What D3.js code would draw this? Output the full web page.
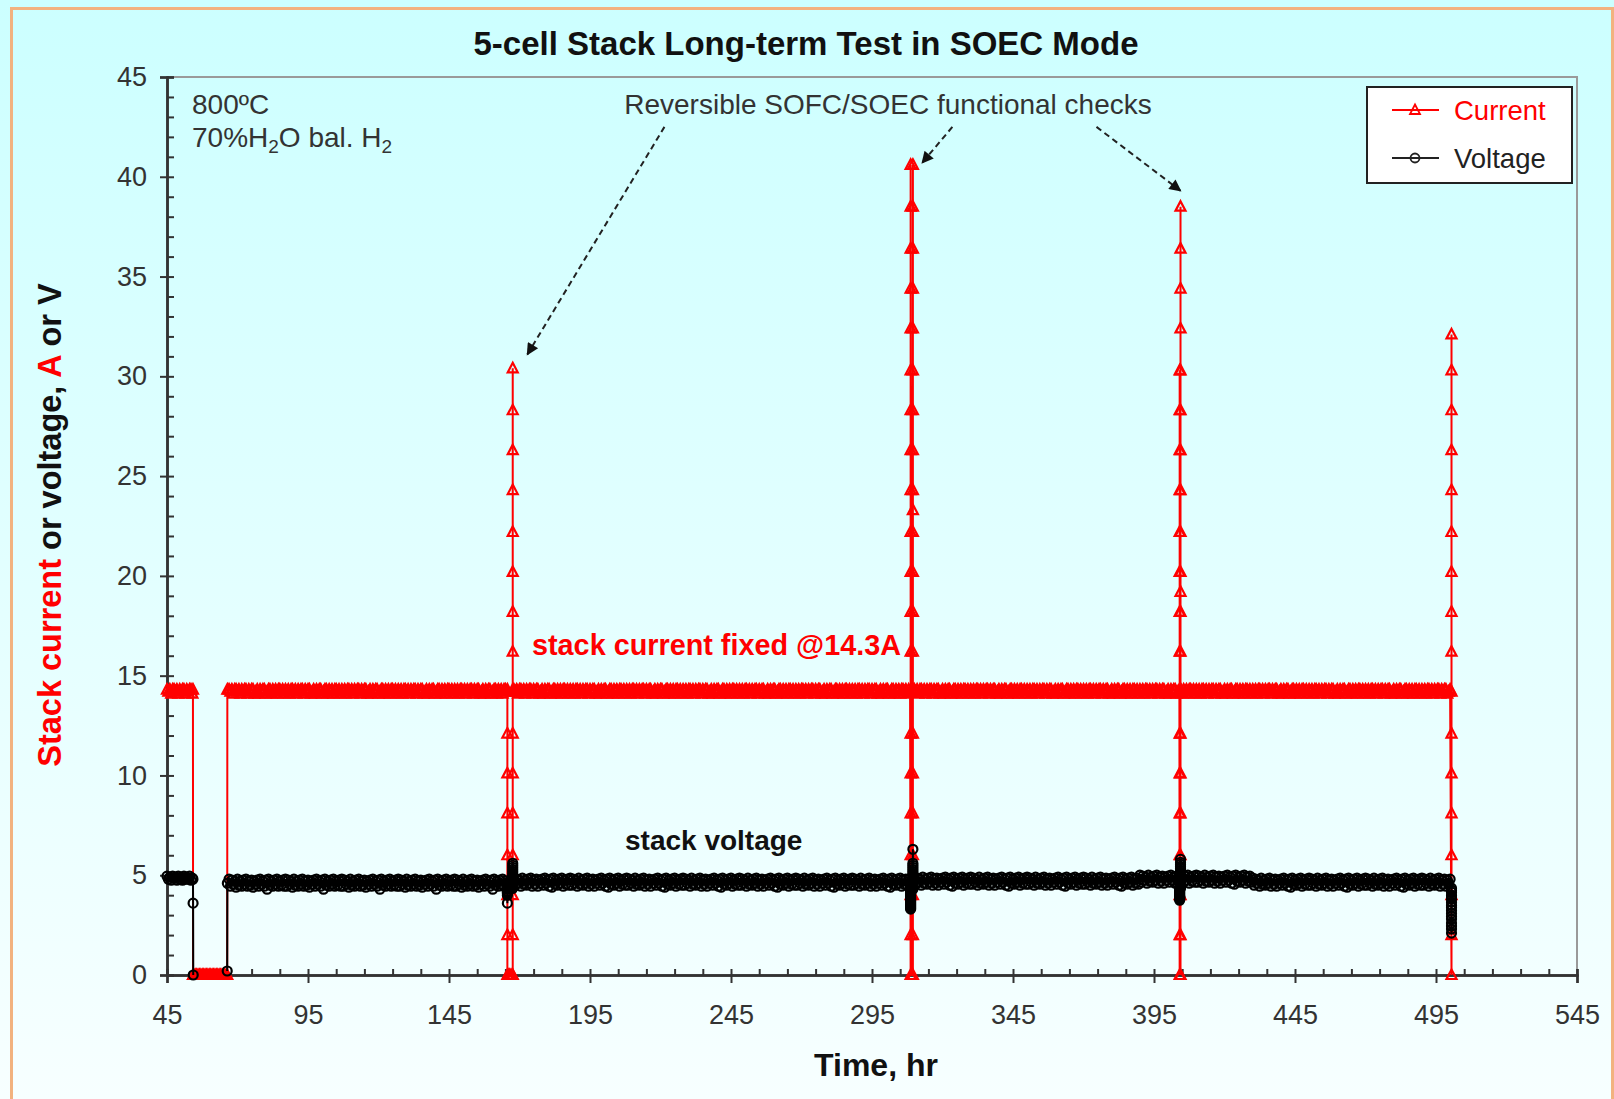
<!DOCTYPE html>
<html>
<head>
<meta charset="utf-8">
<script src="https://cdn.jsdelivr.net/npm/d3@7"></script>
<style>
    html, body { margin: 0; padding: 0; }
    body { width: 1614px; height: 1099px; overflow: hidden; }
    svg text { font-family: "Liberation Sans", Arial, sans-serif; }
</style>
</head>
<body>
<svg id="chart" width="1614" height="1099"></svg>
<script>
// ---- data ----
// axis ticks
const xTicks = [45, 95, 145, 195, 245, 295, 345, 395, 445, 495, 545];
const yTicks = [0, 5, 10, 15, 20, 25, 30, 35, 40, 45];

// logged readings every half hour; run k starts at runStart[k] hr
const logStep = 0.5;
const runStart = [45, 54.5, 67, 166, 168, 309, 310];

const curRun1 = [14.3, 14.2, 14.3, 14.1, 14.3, 14.3, 14.2, 14.3, 14.1, 14.3, 14.2, 14.3, 14.3, 14.1, 14.3, 14.2, 14.3, 14.3, 14.1];
const curOff = [0, 0, 0, 0, 0, 0, 0, 0, 0, 0, 0, 0, 0, 0, 0, 0, 0, 0, 0, 0, 0, 0, 0, 0];
const curRun2 = [
    14.3, 14.2, 14.3, 14.1, 14.3, 14.3, 14.2, 14.3, 14.1, 14.3, 14.2, 14.3, 14.3, 14.1, 14.3, 14.2, 14.3, 14.3, 14.1, 14.2,
    14.3, 14.1, 14.3, 14.2, 14.3, 14.3, 14.1, 14.2, 14.3, 14.3, 14.1, 14.3, 14.2, 14.3, 14.1, 14.3, 14.3, 14.2, 14.3, 14.1,
    14.3, 14.2, 14.3, 14.1, 14.3, 14.3, 14.2, 14.3, 14.1, 14.3, 14.2, 14.3, 14.3, 14.1, 14.3, 14.2, 14.3, 14.3, 14.1, 14.2,
    14.3, 14.1, 14.3, 14.2, 14.3, 14.3, 14.1, 14.2, 14.3, 14.3, 14.1, 14.3, 14.2, 14.3, 14.1, 14.3, 14.3, 14.2, 14.3, 14.1,
    14.3, 14.2, 14.3, 14.1, 14.3, 14.3, 14.2, 14.3, 14.1, 14.3, 14.2, 14.3, 14.3, 14.1, 14.3, 14.2, 14.3, 14.3, 14.1, 14.2,
    14.3, 14.1, 14.3, 14.2, 14.3, 14.3, 14.1, 14.2, 14.3, 14.3, 14.1, 14.3, 14.2, 14.3, 14.1, 14.3, 14.3, 14.2, 14.3, 14.1,
    14.3, 14.2, 14.3, 14.1, 14.3, 14.3, 14.2, 14.3, 14.1, 14.3, 14.2, 14.3, 14.3, 14.1, 14.3, 14.2, 14.3, 14.3, 14.1, 14.2,
    14.3, 14.1, 14.3, 14.2, 14.3, 14.3, 14.1, 14.2, 14.3, 14.3, 14.1, 14.3, 14.2, 14.3, 14.1, 14.3, 14.3, 14.2, 14.3, 14.1,
    14.3, 14.2, 14.3, 14.1, 14.3, 14.3, 14.2, 14.3, 14.1, 14.3, 14.2, 14.3, 14.3, 14.1, 14.3, 14.2, 14.3, 14.3, 14.1, 14.2,
    14.3, 14.1, 14.3, 14.2, 14.3, 14.3, 14.1, 14.2, 14.3, 14.3, 14.1, 14.3, 14.2, 14.3, 14.1, 14.3, 14.3, 14.2];
const curHold1 = [0, 0, 0, 0];
const curRun3 = [
    14.3, 14.2, 14.3, 14.1, 14.3, 14.3, 14.2, 14.3, 14.1, 14.3, 14.2, 14.3, 14.3, 14.1, 14.3, 14.2, 14.3, 14.3, 14.1, 14.2,
    14.3, 14.1, 14.3, 14.2, 14.3, 14.3, 14.1, 14.2, 14.3, 14.3, 14.1, 14.3, 14.2, 14.3, 14.1, 14.3, 14.3, 14.2, 14.3, 14.1,
    14.3, 14.2, 14.3, 14.1, 14.3, 14.3, 14.2, 14.3, 14.1, 14.3, 14.2, 14.3, 14.3, 14.1, 14.3, 14.2, 14.3, 14.3, 14.1, 14.2,
    14.3, 14.1, 14.3, 14.2, 14.3, 14.3, 14.1, 14.2, 14.3, 14.3, 14.1, 14.3, 14.2, 14.3, 14.1, 14.3, 14.3, 14.2, 14.3, 14.1,
    14.3, 14.2, 14.3, 14.1, 14.3, 14.3, 14.2, 14.3, 14.1, 14.3, 14.2, 14.3, 14.3, 14.1, 14.3, 14.2, 14.3, 14.3, 14.1, 14.2,
    14.3, 14.1, 14.3, 14.2, 14.3, 14.3, 14.1, 14.2, 14.3, 14.3, 14.1, 14.3, 14.2, 14.3, 14.1, 14.3, 14.3, 14.2, 14.3, 14.1,
    14.3, 14.2, 14.3, 14.1, 14.3, 14.3, 14.2, 14.3, 14.1, 14.3, 14.2, 14.3, 14.3, 14.1, 14.3, 14.2, 14.3, 14.3, 14.1, 14.2,
    14.3, 14.1, 14.3, 14.2, 14.3, 14.3, 14.1, 14.2, 14.3, 14.3, 14.1, 14.3, 14.2, 14.3, 14.1, 14.3, 14.3, 14.2, 14.3, 14.1,
    14.3, 14.2, 14.3, 14.1, 14.3, 14.3, 14.2, 14.3, 14.1, 14.3, 14.2, 14.3, 14.3, 14.1, 14.3, 14.2, 14.3, 14.3, 14.1, 14.2,
    14.3, 14.1, 14.3, 14.2, 14.3, 14.3, 14.1, 14.2, 14.3, 14.3, 14.1, 14.3, 14.2, 14.3, 14.1, 14.3, 14.3, 14.2, 14.3, 14.1,
    14.3, 14.2, 14.3, 14.1, 14.3, 14.3, 14.2, 14.3, 14.1, 14.3, 14.2, 14.3, 14.3, 14.1, 14.3, 14.2, 14.3, 14.3, 14.1, 14.2,
    14.3, 14.1, 14.3, 14.2, 14.3, 14.3, 14.1, 14.2, 14.3, 14.3, 14.1, 14.3, 14.2, 14.3, 14.1, 14.3, 14.3, 14.2, 14.3, 14.1,
    14.3, 14.2, 14.3, 14.1, 14.3, 14.3, 14.2, 14.3, 14.1, 14.3, 14.2, 14.3, 14.3, 14.1, 14.3, 14.2, 14.3, 14.3, 14.1, 14.2,
    14.3, 14.1, 14.3, 14.2, 14.3, 14.3, 14.1, 14.2, 14.3, 14.3, 14.1, 14.3, 14.2, 14.3, 14.1, 14.3, 14.3, 14.2, 14.3, 14.1,
    14.3, 14.2];
const curHold2 = [0];
const curRun4 = [
    14.3, 14.2, 14.3, 14.1, 14.3, 14.3, 14.2, 14.3, 14.1, 14.3, 14.2, 14.3, 14.3, 14.1, 14.3, 14.2, 14.3, 14.3, 14.1, 14.2,
    14.3, 14.1, 14.3, 14.2, 14.3, 14.3, 14.1, 14.2, 14.3, 14.3, 14.1, 14.3, 14.2, 14.3, 14.1, 14.3, 14.3, 14.2, 14.3, 14.1,
    14.3, 14.2, 14.3, 14.1, 14.3, 14.3, 14.2, 14.3, 14.1, 14.3, 14.2, 14.3, 14.3, 14.1, 14.3, 14.2, 14.3, 14.3, 14.1, 14.2,
    14.3, 14.1, 14.3, 14.2, 14.3, 14.3, 14.1, 14.2, 14.3, 14.3, 14.1, 14.3, 14.2, 14.3, 14.1, 14.3, 14.3, 14.2, 14.3, 14.1,
    14.3, 14.2, 14.3, 14.1, 14.3, 14.3, 14.2, 14.3, 14.1, 14.3, 14.2, 14.3, 14.3, 14.1, 14.3, 14.2, 14.3, 14.3, 14.1, 14.2,
    14.3, 14.1, 14.3, 14.2, 14.3, 14.3, 14.1, 14.2, 14.3, 14.3, 14.1, 14.3, 14.2, 14.3, 14.1, 14.3, 14.3, 14.2, 14.3, 14.1,
    14.3, 14.2, 14.3, 14.1, 14.3, 14.3, 14.2, 14.3, 14.1, 14.3, 14.2, 14.3, 14.3, 14.1, 14.3, 14.2, 14.3, 14.3, 14.1, 14.2,
    14.3, 14.1, 14.3, 14.2, 14.3, 14.3, 14.1, 14.2, 14.3, 14.3, 14.1, 14.3, 14.2, 14.3, 14.1, 14.3, 14.3, 14.2, 14.3, 14.1,
    14.3, 14.2, 14.3, 14.1, 14.3, 14.3, 14.2, 14.3, 14.1, 14.3, 14.2, 14.3, 14.3, 14.1, 14.3, 14.2, 14.3, 14.3, 14.1, 14.2,
    14.3, 14.1, 14.3, 14.2, 14.3, 14.3, 14.1, 14.2, 14.3, 14.3, 14.1, 14.3, 14.2, 14.3, 14.1, 14.3, 14.3, 14.2, 14.3, 14.1,
    14.3, 14.2, 14.3, 14.1, 14.3, 14.3, 14.2, 14.3, 14.1, 14.3, 14.2, 14.3, 14.3, 14.1, 14.3, 14.2, 14.3, 14.3, 14.1, 14.2,
    14.3, 14.1, 14.3, 14.2, 14.3, 14.3, 14.1, 14.2, 14.3, 14.3, 14.1, 14.3, 14.2, 14.3, 14.1, 14.3, 14.3, 14.2, 14.3, 14.1,
    14.3, 14.2, 14.3, 14.1, 14.3, 14.3, 14.2, 14.3, 14.1, 14.3, 14.2, 14.3, 14.3, 14.1, 14.3, 14.2, 14.3, 14.3, 14.1, 14.2,
    14.3, 14.1, 14.3, 14.2, 14.3, 14.3, 14.1, 14.2, 14.3, 14.3, 14.1, 14.3, 14.2, 14.3, 14.1, 14.3, 14.3, 14.2, 14.3, 14.1,
    14.3, 14.2, 14.3, 14.1, 14.3, 14.3, 14.2, 14.3, 14.1, 14.3, 14.2, 14.3, 14.3, 14.1, 14.3, 14.2, 14.3, 14.3, 14.1, 14.2,
    14.3, 14.1, 14.3, 14.2, 14.3, 14.3, 14.1, 14.2, 14.3, 14.3, 14.1, 14.3, 14.2, 14.3, 14.1, 14.3, 14.3, 14.2, 14.3, 14.1,
    14.3, 14.2, 14.3, 14.1, 14.3, 14.3, 14.2, 14.3, 14.1, 14.3, 14.2, 14.3, 14.3, 14.1, 14.3, 14.2, 14.3, 14.3, 14.1, 14.2,
    14.3, 14.1, 14.3, 14.2, 14.3, 14.3, 14.1, 14.2, 14.3, 14.3, 14.1, 14.3, 14.2, 14.3, 14.1, 14.3, 14.3, 14.2, 14.3, 14.1,
    14.3, 14.2, 14.3, 14.1, 14.3, 14.3, 14.2, 14.3, 14.1, 14.3, 14.2, 14.3, 14.3, 14.1, 14.3, 14.2, 14.3, 14.3, 14.1, 14.2,
    14.3];

const voltRun1 = [4.95, 4.8, 4.9, 4.75, 4.95, 4.85, 4.9, 4.75, 4.95, 4.8, 4.9, 4.75, 4.95, 4.8, 4.9, 4.8, 4.95, 4.75, 4.85];
const voltRun2 = [
    4.8, 4.45, 4.75, 4.55, 4.7, 4.4, 4.8, 4.5, 4.7, 4.45, 4.75, 4.55, 4.8, 4.45, 4.7, 4.5, 4.75, 4.4, 4.7, 4.55,
    4.75, 4.45, 4.8, 4.55, 4.7, 4.45, 4.75, 4.3, 4.8, 4.5, 4.7, 4.45, 4.75, 4.55, 4.8, 4.45, 4.7, 4.5, 4.75, 4.45,
    4.8, 4.45, 4.75, 4.55, 4.7, 4.4, 4.8, 4.5, 4.7, 4.45, 4.75, 4.55, 4.8, 4.45, 4.7, 4.5, 4.75, 4.4, 4.7, 4.55,
    4.75, 4.45, 4.8, 4.55, 4.7, 4.45, 4.75, 4.3, 4.8, 4.5, 4.7, 4.45, 4.75, 4.55, 4.8, 4.45, 4.7, 4.5, 4.75, 4.45,
    4.8, 4.45, 4.75, 4.55, 4.7, 4.4, 4.8, 4.5, 4.7, 4.45, 4.75, 4.55, 4.8, 4.45, 4.7, 4.5, 4.75, 4.4, 4.7, 4.55,
    4.75, 4.45, 4.8, 4.55, 4.7, 4.45, 4.75, 4.3, 4.8, 4.5, 4.7, 4.45, 4.75, 4.55, 4.8, 4.45, 4.7, 4.5, 4.75, 4.45,
    4.8, 4.45, 4.75, 4.55, 4.7, 4.4, 4.8, 4.5, 4.7, 4.45, 4.75, 4.55, 4.8, 4.45, 4.7, 4.5, 4.75, 4.4, 4.7, 4.55,
    4.75, 4.45, 4.8, 4.55, 4.7, 4.45, 4.75, 4.3, 4.8, 4.5, 4.7, 4.45, 4.75, 4.55, 4.8, 4.45, 4.7, 4.5, 4.75, 4.45,
    4.8, 4.45, 4.75, 4.55, 4.7, 4.4, 4.8, 4.5, 4.7, 4.45, 4.75, 4.55, 4.8, 4.45, 4.7, 4.5, 4.75, 4.4, 4.7, 4.55,
    4.75, 4.45, 4.8, 4.55, 4.7, 4.45, 4.75, 4.3, 4.8, 4.5, 4.7, 4.45, 4.75, 4.55, 4.8, 4.45, 4.7, 4.5];
const voltHold1 = [4.35, 4.35, 4.35, 4.35];
const voltRun3 = [
    4.85, 4.5, 4.8, 4.6, 4.75, 4.45, 4.85, 4.55, 4.75, 4.5, 4.8, 4.6, 4.85, 4.45, 4.75, 4.55, 4.8, 4.45, 4.75, 4.6,
    4.8, 4.5, 4.85, 4.6, 4.75, 4.45, 4.8, 4.4, 4.85, 4.55, 4.75, 4.5, 4.8, 4.6, 4.85, 4.45, 4.75, 4.55, 4.8, 4.5,
    4.85, 4.5, 4.8, 4.6, 4.75, 4.45, 4.85, 4.55, 4.75, 4.5, 4.8, 4.6, 4.85, 4.45, 4.75, 4.55, 4.8, 4.45, 4.75, 4.6,
    4.8, 4.5, 4.85, 4.6, 4.75, 4.45, 4.8, 4.4, 4.85, 4.55, 4.75, 4.5, 4.8, 4.6, 4.85, 4.45, 4.75, 4.55, 4.8, 4.5,
    4.85, 4.5, 4.8, 4.6, 4.75, 4.45, 4.85, 4.55, 4.75, 4.5, 4.8, 4.6, 4.85, 4.45, 4.75, 4.55, 4.8, 4.45, 4.75, 4.6,
    4.8, 4.5, 4.85, 4.6, 4.75, 4.45, 4.8, 4.4, 4.85, 4.55, 4.75, 4.5, 4.8, 4.6, 4.85, 4.45, 4.75, 4.55, 4.8, 4.5,
    4.85, 4.5, 4.8, 4.6, 4.75, 4.45, 4.85, 4.55, 4.75, 4.5, 4.8, 4.6, 4.85, 4.45, 4.75, 4.55, 4.8, 4.45, 4.75, 4.6,
    4.8, 4.5, 4.85, 4.6, 4.75, 4.45, 4.8, 4.4, 4.85, 4.55, 4.75, 4.5, 4.8, 4.6, 4.85, 4.45, 4.75, 4.55, 4.8, 4.5,
    4.85, 4.5, 4.8, 4.6, 4.75, 4.45, 4.85, 4.55, 4.75, 4.5, 4.8, 4.6, 4.85, 4.45, 4.75, 4.55, 4.8, 4.45, 4.75, 4.6,
    4.8, 4.5, 4.85, 4.6, 4.75, 4.45, 4.8, 4.4, 4.85, 4.55, 4.75, 4.5, 4.8, 4.6, 4.85, 4.45, 4.75, 4.55, 4.8, 4.5,
    4.85, 4.5, 4.8, 4.6, 4.75, 4.45, 4.85, 4.55, 4.75, 4.5, 4.8, 4.6, 4.85, 4.45, 4.75, 4.55, 4.8, 4.45, 4.75, 4.6,
    4.8, 4.5, 4.85, 4.6, 4.75, 4.45, 4.8, 4.4, 4.85, 4.55, 4.75, 4.5, 4.8, 4.6, 4.85, 4.45, 4.75, 4.55, 4.8, 4.5,
    4.85, 4.5, 4.8, 4.6, 4.75, 4.45, 4.85, 4.55, 4.75, 4.5, 4.8, 4.6, 4.85, 4.45, 4.75, 4.55, 4.8, 4.45, 4.75, 4.6,
    4.8, 4.5, 4.85, 4.6, 4.75, 4.45, 4.8, 4.4, 4.85, 4.55, 4.75, 4.5, 4.8, 4.6, 4.85, 4.45, 4.75, 4.55, 4.8, 4.5,
    4.8, 4.55];
const voltHold2 = [4.3];
const voltRun4 = [
    4.9, 4.55, 4.85, 4.65, 4.8, 4.5, 4.9, 4.6, 4.8, 4.55, 4.85, 4.65, 4.9, 4.5, 4.8, 4.6, 4.85, 4.5, 4.8, 4.65,
    4.85, 4.55, 4.9, 4.65, 4.8, 4.5, 4.85, 4.45, 4.9, 4.6, 4.8, 4.55, 4.85, 4.65, 4.9, 4.5, 4.8, 4.6, 4.85, 4.55,
    4.9, 4.55, 4.85, 4.65, 4.8, 4.5, 4.9, 4.6, 4.8, 4.55, 4.85, 4.65, 4.9, 4.5, 4.8, 4.6, 4.85, 4.5, 4.8, 4.65,
    4.85, 4.55, 4.9, 4.65, 4.8, 4.5, 4.85, 4.45, 4.9, 4.6, 4.8, 4.55, 4.85, 4.65, 4.9, 4.5, 4.8, 4.6, 4.85, 4.55,
    4.9, 4.55, 4.85, 4.65, 4.8, 4.5, 4.9, 4.6, 4.8, 4.55, 4.85, 4.65, 4.9, 4.5, 4.8, 4.6, 4.85, 4.5, 4.8, 4.65,
    4.85, 4.55, 4.9, 4.65, 4.8, 4.5, 4.85, 4.45, 4.9, 4.6, 4.8, 4.55, 4.85, 4.65, 4.9, 4.5, 4.8, 4.6, 4.85, 4.55,
    4.9, 4.55, 4.85, 4.65, 4.8, 4.5, 4.9, 4.6, 4.8, 4.55, 4.85, 4.65, 4.9, 4.5, 4.8, 4.6, 4.85, 4.5, 4.8, 4.65,
    4.85, 4.55, 4.9, 4.65, 4.8, 4.5, 4.85, 4.45, 4.9, 4.6, 4.8, 4.55, 4.85, 4.65, 4.9, 4.5, 4.8, 4.6, 4.85, 4.55,
    5.0, 4.65, 4.95, 4.75, 4.9, 4.6, 5.0, 4.7, 4.9, 4.65, 4.95, 4.75, 5.0, 4.6, 4.9, 4.7, 4.95, 4.6, 4.9, 4.75,
    4.95, 4.65, 5.0, 4.75, 4.9, 4.6, 4.95, 4.55, 5.0, 4.7, 4.9, 4.65, 4.95, 4.75, 5.0, 4.6, 4.9, 4.7, 4.95, 4.65,
    5.0, 4.65, 4.95, 4.75, 4.9, 4.6, 5.0, 4.7, 4.9, 4.65, 4.95, 4.75, 5.0, 4.6, 4.9, 4.7, 4.95, 4.6, 4.9, 4.75,
    4.95, 4.65, 5.0, 4.75, 4.9, 4.6, 4.95, 4.55, 5.0, 4.7, 4.9, 4.65, 4.95, 4.75, 5.0, 4.6, 4.9, 4.7, 4.95, 4.65,
    4.85, 4.5, 4.8, 4.6, 4.75, 4.45, 4.85, 4.55, 4.75, 4.5, 4.8, 4.6, 4.85, 4.45, 4.75, 4.55, 4.8, 4.45, 4.75, 4.6,
    4.8, 4.5, 4.85, 4.6, 4.75, 4.45, 4.8, 4.4, 4.85, 4.55, 4.75, 4.5, 4.8, 4.6, 4.85, 4.45, 4.75, 4.55, 4.8, 4.5,
    4.85, 4.5, 4.8, 4.6, 4.75, 4.45, 4.85, 4.55, 4.75, 4.5, 4.8, 4.6, 4.85, 4.45, 4.75, 4.55, 4.8, 4.45, 4.75, 4.6,
    4.8, 4.5, 4.85, 4.6, 4.75, 4.45, 4.8, 4.4, 4.85, 4.55, 4.75, 4.5, 4.8, 4.6, 4.85, 4.45, 4.75, 4.55, 4.8, 4.5,
    4.85, 4.5, 4.8, 4.6, 4.75, 4.45, 4.85, 4.55, 4.75, 4.5, 4.8, 4.6, 4.85, 4.45, 4.75, 4.55, 4.8, 4.45, 4.75, 4.6,
    4.8, 4.5, 4.85, 4.6, 4.75, 4.45, 4.8, 4.4, 4.85, 4.55, 4.75, 4.5, 4.8, 4.6, 4.85, 4.45, 4.75, 4.55, 4.8, 4.5,
    4.85, 4.5, 4.8, 4.6, 4.75, 4.45, 4.85, 4.55, 4.75, 4.5, 4.8, 4.6, 4.85, 4.45, 4.75, 4.55, 4.8, 4.45, 4.75, 4.6,
    4.8];

const runCurrent = [curRun1, curOff, curRun2, curHold1, curRun3, curHold2, curRun4];
const runVoltage = [voltRun1, null, voltRun2, voltHold1, voltRun3, voltHold2, voltRun4];

// stack trip at ~54 hr, restart at ~66 hr
const tripTime = [54.2, 54.25, 54.3, 66.35, 66.4];
const tripCurrent = [14.3, 0, 0, 0, 14.3];
const tripVoltage = [4.8, 3.6, 0, 0.2, 4.6];

// reversible SOFC/SOEC functional checks, each sweep logged at one time stamp
const sweepTime = [165.7, 167.6, 308.7, 309.5, 404.1, 404.4, 500.5];
const sweepCurrent = [
    [14.3, 12.1, 10.1, 8.1, 6.0, 4.0, 2.0, 0],
    [0, 2.0, 4.0, 6.0, 8.1, 10.1, 12.1, 14.2, 16.2, 18.2, 20.2, 22.2, 24.3, 26.3, 28.3, 30.4, 14.3],
    [0, 2.0, 4.0, 6.0, 8.1, 10.1, 12.1, 14.2, 16.2, 18.2, 20.2, 22.2, 24.3, 26.3, 28.3, 30.3, 32.4, 34.4, 36.4, 38.5, 40.6],
    [0, 2.0, 4.0, 6.0, 8.1, 10.1, 12.1, 14.2, 16.2, 18.2, 20.2, 22.2, 23.3, 24.3, 26.3, 28.3, 30.3, 32.4, 34.4, 36.4, 38.5, 40.6, 14.3],
    [0, 2.0, 4.0, 6.0, 8.1, 10.1, 12.1, 14.2, 16.2, 18.2, 20.2, 22.2, 24.3, 26.3, 28.3, 30.3],
    [0, 2.0, 4.0, 6.0, 8.1, 10.1, 12.1, 14.2, 16.2, 18.2, 19.2, 20.2, 22.2, 24.3, 26.3, 28.3, 30.3, 32.4, 34.4, 36.4, 38.5, 14.3],
    [0, 2.0, 4.0, 6.0, 8.1, 10.1, 12.1, 14.2, 16.2, 18.2, 20.2, 22.2, 24.3, 26.3, 28.3, 30.3, 32.1]
];
const sweepVoltage = [
    [4.6, 3.6, 4.0, 4.1, 4.15, 4.2, 4.3, 4.35],
    [4.35, 4.4, 4.45, 4.55, 4.6, 4.7, 4.8, 4.85, 4.95, 5.0, 5.1, 5.2, 5.3, 5.4, 5.5, 5.6, 4.8],
    [4.3, 4.25, 4.2, 4.15, 4.1, 4.05, 4.0, 3.95, 3.9, 3.85, 3.8, 3.75, 3.7, 3.65, 3.6, 3.55, 3.5, 3.45, 3.4, 3.35, 3.3],
    [4.3, 4.35, 4.4, 4.45, 4.5, 4.55, 4.6, 4.65, 4.7, 4.75, 4.8, 4.85, 4.9, 4.95, 5.0, 5.1, 5.2, 5.3, 5.4, 5.5, 5.6, 6.3, 4.75],
    [4.35, 4.3, 4.25, 4.2, 4.15, 4.1, 4.05, 4.0, 3.95, 3.95, 3.9, 3.9, 3.85, 3.85, 3.8, 3.75],
    [4.35, 4.4, 4.45, 4.5, 4.55, 4.6, 4.65, 4.7, 4.8, 4.85, 4.9, 4.95, 5.0, 5.1, 5.15, 5.25, 5.35, 5.45, 5.55, 5.65, 5.8, 4.85],
    [4.35, 4.25, 4.15, 4.0, 3.9, 3.8, 3.65, 3.5, 3.4, 3.25, 3.1, 2.95, 2.8, 2.6, 2.45, 2.3, 2.1]
];

// annotation arrows, [hr, A]
const arrowFrom = [[221.4, 42.5], [323.5, 42.5], [374.6, 42.5]];
const arrowTo = [[172.8, 31.1], [312.8, 40.7], [404.4, 39.3]];

// ---- build the time-ordered record ----
var pts = [];
runStart.forEach(function (t0, k) {
    runCurrent[k].forEach(function (c, i) {
        pts.push({ t: t0 + i * logStep, c: c, v: runVoltage[k] ? runVoltage[k][i] : null });
    });
});
tripTime.forEach(function (t, i) {
    pts.push({ t: t, c: tripCurrent[i], v: tripVoltage[i] });
});
sweepTime.forEach(function (t, k) {
    sweepCurrent[k].forEach(function (c, i) {
        pts.push({ t: t, c: c, v: sweepVoltage[k][i] });
    });
});
pts.sort(function (a, b) { return a.t - b.t; });

// ---- drawing ----
var width = 1614, height = 1099;
var plot = { left: 167, right: 1577, top: 77, bottom: 975 };

var svg = d3.select("#chart");

var defs = svg.append("defs");
var grad = defs.append("linearGradient")
    .attr("id", "bg")
    .attr("x1", 0).attr("y1", 0).attr("x2", 0).attr("y2", 1);
grad.append("stop").attr("offset", "0%").attr("stop-color", "#ccffff");
grad.append("stop").attr("offset", "100%").attr("stop-color", "#f7ffff");

defs.append("marker")
    .attr("id", "arrowhead")
    .attr("viewBox", "0 0 10 10")
    .attr("refX", 9).attr("refY", 5)
    .attr("markerWidth", 7.5).attr("markerHeight", 6)
    .attr("orient", "auto")
    .append("path")
    .attr("d", "M0,0 L10,5 L0,10 Z")
    .attr("fill", "#111");

svg.append("rect")
    .attr("width", width).attr("height", height)
    .attr("fill", "url(#bg)");

// outer orange frame
svg.append("rect")
    .attr("x", 11.5).attr("y", 8.5)
    .attr("width", 1601).attr("height", 1200)
    .attr("fill", "none")
    .attr("stroke", "#f2b27f")
    .attr("stroke-width", 3);

var x = d3.scaleLinear().domain([45, 545]).range([plot.left, plot.right]);
var y = d3.scaleLinear().domain([0, 45]).range([plot.bottom, plot.top]);

// plot frame (top + right)
svg.append("path")
    .attr("d", "M" + plot.left + "," + plot.top + "H" + plot.right + "V" + plot.bottom)
    .attr("fill", "none")
    .attr("stroke", "#9a9a9a")
    .attr("stroke-width", 2);

// x axis: labels + outward major ticks, inward minor ticks
svg.append("g")
    .attr("transform", "translate(0," + plot.bottom + ")")
    .call(d3.axisBottom(x).tickValues(xTicks).tickSize(8).tickPadding(22).tickFormat(d3.format("d")));
svg.append("g")
    .attr("transform", "translate(0," + plot.bottom + ")")
    .call(d3.axisTop(x).tickValues(d3.range(45, 546, 10)).tickSize(6).tickFormat(""));

svg.append("g")
    .attr("transform", "translate(" + plot.left + ",0)")
    .call(d3.axisLeft(y).tickValues(yTicks).tickSize(7).tickPadding(13).tickFormat(d3.format("d")));
svg.append("g")
    .attr("transform", "translate(" + plot.left + ",0)")
    .call(d3.axisRight(y).tickValues(d3.range(0, 46, 1)).tickSize(7).tickFormat(""));

svg.selectAll(".domain").attr("stroke", "#333").attr("stroke-width", 2.5);
svg.selectAll(".tick line").attr("stroke", "#333").attr("stroke-width", 2);
svg.selectAll(".tick text")
    .attr("fill", "#333")
    .style("font-family", '"Liberation Sans", Arial, sans-serif')
    .style("font-size", "27px");

// series
var triPath = "M0,-5.5 L5,4 L-5,4 Z";

var lineCur = d3.line().x(function (d) { return x(d.t); }).y(function (d) { return y(d.c); });
var lineVolt = d3.line()
    .defined(function (d) { return d.v != null; })
    .x(function (d) { return x(d.t); })
    .y(function (d) { return y(d.v); });

svg.append("path")
    .datum(pts)
    .attr("d", lineCur)
    .attr("fill", "none")
    .attr("stroke", "#ff0000")
    .attr("stroke-width", 2);

svg.append("g")
    .selectAll("path")
    .data(pts)
    .enter().append("path")
    .attr("d", triPath)
    .attr("transform", function (d) { return "translate(" + x(d.t) + "," + y(d.c) + ")"; })
    .attr("fill", "none")
    .attr("stroke", "#ff0000")
    .attr("stroke-width", 2.2);

svg.append("path")
    .datum(pts)
    .attr("d", lineVolt)
    .attr("fill", "none")
    .attr("stroke", "#000")
    .attr("stroke-width", 2);

svg.append("g")
    .selectAll("circle")
    .data(pts.filter(function (d) { return d.v != null; }))
    .enter().append("circle")
    .attr("cx", function (d) { return x(d.t); })
    .attr("cy", function (d) { return y(d.v); })
    .attr("r", 4.5)
    .attr("fill", "none")
    .attr("stroke", "#000")
    .attr("stroke-width", 2.2);

// titles
svg.append("text")
    .attr("x", 806).attr("y", 55)
    .attr("text-anchor", "middle")
    .style("font-size", "33px").style("font-weight", "bold")
    .attr("fill", "#111")
    .text("5-cell Stack Long-term Test in SOEC Mode");

svg.append("text")
    .attr("x", 876).attr("y", 1076)
    .attr("text-anchor", "middle")
    .style("font-size", "32px").style("font-weight", "bold")
    .attr("fill", "#111")
    .text("Time, hr");

var yTitle = svg.append("text")
    .attr("transform", "translate(61,525) rotate(-90)")
    .attr("text-anchor", "middle")
    .style("font-size", "32.5px").style("font-weight", "bold");
yTitle.append("tspan").attr("fill", "#ff0000").text("Stack current");
yTitle.append("tspan").attr("fill", "#111").text(" or voltage, ");
yTitle.append("tspan").attr("fill", "#ff0000").text("A");
yTitle.append("tspan").attr("fill", "#111").text(" or V");

// conditions
svg.append("text")
    .attr("x", 192).attr("y", 114)
    .style("font-size", "28px").attr("fill", "#333")
    .text("800ºC");
var cond = svg.append("text")
    .attr("x", 192).attr("y", 147)
    .style("font-size", "28px").attr("fill", "#333");
cond.append("tspan").text("70%H");
cond.append("tspan").attr("dy", 6).style("font-size", "19px").text("2");
cond.append("tspan").attr("dy", -6).text("O bal. H");
cond.append("tspan").attr("dy", 6).style("font-size", "19px").text("2");

// functional check annotation
svg.append("text")
    .attr("x", 888).attr("y", 114)
    .attr("text-anchor", "middle")
    .style("font-size", "28px").attr("fill", "#333")
    .text("Reversible SOFC/SOEC functional checks");

svg.append("g").selectAll("line")
    .data(arrowFrom)
    .enter().append("line")
    .attr("x1", function (d) { return x(d[0]); })
    .attr("y1", function (d) { return y(d[1]); })
    .attr("x2", function (d, i) { return x(arrowTo[i][0]); })
    .attr("y2", function (d, i) { return y(arrowTo[i][1]); })
    .attr("stroke", "#222")
    .attr("stroke-width", 2)
    .attr("stroke-dasharray", "6,4")
    .attr("marker-end", "url(#arrowhead)");

svg.append("text")
    .attr("x", 532).attr("y", 655)
    .style("font-size", "28.8px").style("font-weight", "bold")
    .attr("fill", "#ff0000")
    .text("stack current fixed @14.3A");

svg.append("text")
    .attr("x", 625).attr("y", 850)
    .style("font-size", "28px").style("font-weight", "bold")
    .attr("fill", "#111")
    .text("stack voltage");

// legend
var legend = svg.append("g");
legend.append("rect")
    .attr("x", 1367).attr("y", 87)
    .attr("width", 205).attr("height", 96)
    .attr("fill", "#fff")
    .attr("stroke", "#222")
    .attr("stroke-width", 2);

var legItems = [
    { name: "Current", color: "#ff0000", y: 110, mark: "tri" },
    { name: "Voltage", color: "#222", y: 158, mark: "circ" }
];
legItems.forEach(function (it) {
    legend.append("line")
        .attr("x1", 1392).attr("x2", 1439)
        .attr("y1", it.y).attr("y2", it.y)
        .attr("stroke", it.color).attr("stroke-width", 2);
    if (it.mark === "tri") {
        legend.append("path")
            .attr("d", triPath)
            .attr("transform", "translate(1415," + it.y + ")")
            .attr("fill", "none").attr("stroke", it.color).attr("stroke-width", 1.8);
    } else {
        legend.append("circle")
            .attr("cx", 1415).attr("cy", it.y).attr("r", 4.5)
            .attr("fill", "none").attr("stroke", it.color).attr("stroke-width", 1.8);
    }
    legend.append("text")
        .attr("x", 1454).attr("y", it.y + 10)
        .style("font-size", "27.5px")
        .attr("fill", it.color)
        .text(it.name);
});
</script>
</body>
</html>
